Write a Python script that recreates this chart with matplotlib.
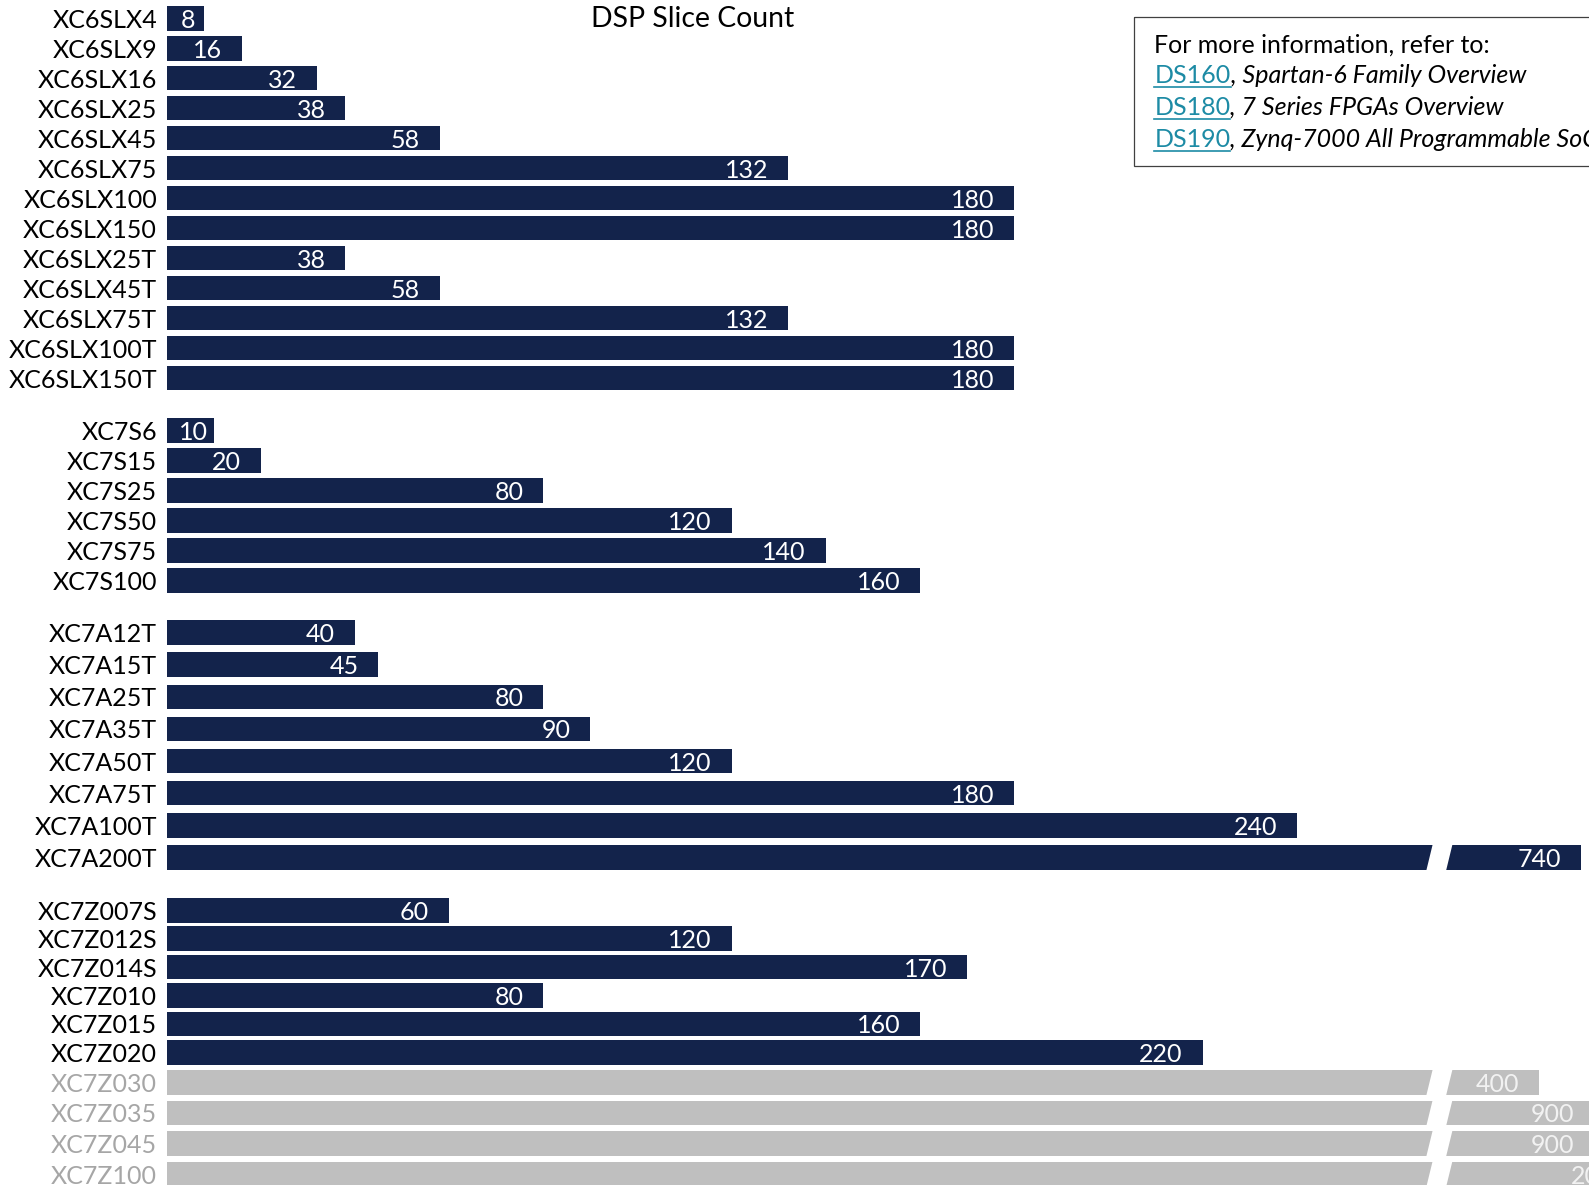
import numpy as np
import matplotlib
matplotlib.use("Agg")
import matplotlib.pyplot as plt
from matplotlib.patches import Polygon, Rectangle
from matplotlib.lines import Line2D

plt.rcParams['font.family'] = ['Lato', 'DejaVu Sans']

# Data
spartan6 = ["XC6SLX4", "XC6SLX9", "XC6SLX16", "XC6SLX25", "XC6SLX45", "XC6SLX75",
            "XC6SLX100", "XC6SLX150", "XC6SLX25T", "XC6SLX45T", "XC6SLX75T",
            "XC6SLX100T", "XC6SLX150T"]
spartan6_dsp = [8, 16, 32, 38, 58, 132, 180, 180, 38, 58, 132, 180, 180]

spartan7 = ["XC7S6", "XC7S15", "XC7S25", "XC7S50", "XC7S75", "XC7S100"]
spartan7_dsp = [10, 20, 80, 120, 140, 160]

artix7 = ["XC7A12T", "XC7A15T", "XC7A25T", "XC7A35T", "XC7A50T", "XC7A75T",
          "XC7A100T", "XC7A200T"]
artix7_dsp = [40, 45, 80, 90, 120, 180, 240, 740]

zynq7 = ["XC7Z007S", "XC7Z012S", "XC7Z014S", "XC7Z010", "XC7Z015", "XC7Z020"]
zynq7_dsp = [60, 120, 170, 80, 160, 220]

zynq7_large = ["XC7Z030", "XC7Z035", "XC7Z045", "XC7Z100"]
zynq7_large_dsp = [400, 900, 900, 2020]

ref_codes = ["DS160", "DS180", "DS190"]
ref_titles = [", Spartan-6 Family Overview", ", 7 Series FPGAs Overview",
              ", Zynq-7000 All Programmable SoC Overview"]

# Colours
navy = '#13234B'
grey_bar = '#BFBFBF'
grey_text = '#A6A6A6'
link = '#1D8BA5'

W, H = 1589, 1185
x0_px = 166.5          # where bars start
px_per_unit = 4.71

# broken axis: linear up to BRK, then compressed log part after a jump
BRK, JUMP, K = 268.0, 17.6, 14.47


def forward(v):
    v = np.asarray(v, dtype=float)
    vv = np.maximum(v, BRK)
    return np.where(v <= BRK, v, BRK + JUMP + K * np.log(vv / BRK))


def inverse(t):
    t = np.asarray(t, dtype=float)
    tt = np.maximum(t, BRK + JUMP)
    return np.where(t <= BRK, t,
                    np.where(t < BRK + JUMP, BRK, BRK * np.exp((tt - BRK - JUMP) / K)))


fig = plt.figure(figsize=(W / 100, H / 100), dpi=100)

# background axes in pixel coordinates for title and info box
ax_bg = fig.add_axes([0, 0, 1, 1])
ax_bg.set_xlim(0, W)
ax_bg.set_ylim(H, 0)
ax_bg.axis('off')

ax_bg.text(692.5, 26.7, "DSP Slice Count", ha='center', va='baseline', fontsize=20.4)

# info box
ax_bg.add_patch(Rectangle((1134.3, 17.3), 600, 148.4, fill=False,
                          edgecolor='#404040', linewidth=0.9))
ax_bg.text(1154.3, 52.3, "For more information, refer to:", fontsize=18,
           va='baseline', ha='left')
link_texts = []
for code, title, base in zip(ref_codes, ref_titles, [83.3, 115.0, 146.7]):
    t1 = ax_bg.text(1154.3, base, code, color=link, fontsize=18, va='baseline', ha='left')
    ax_bg.annotate(title, xy=(1, 0), xycoords=t1, va='bottom', ha='left',
                   fontsize=18, style='italic', annotation_clip=False)
    link_texts.append((t1, base))

# group layout: (names, values, bar colour, label colour, value colour, first row px, last row px)
groups = [
    (spartan6, spartan6_dsp, navy, 'black', 'white', 18.3, 378.0),
    (spartan7, spartan7_dsp, navy, 'black', 'white', 430.5, 580.5),
    (artix7, artix7_dsp, navy, 'black', 'white', 632.5, 857.5),
    (zynq7, zynq7_dsp, navy, 'black', 'white', 910.3, 1052.3),
    (zynq7_large, zynq7_large_dsp, grey_bar, grey_text, '#F2F2F2', 1082.5, 1174.0),
]

t_max = (W - x0_px) / px_per_unit

for names, vals, bcol, lcol, vcol, first, last in groups:
    n = len(names)
    step = (last - first) / (n - 1)
    top = first - step / 2
    bottom = last + step / 2
    ax = fig.add_axes([x0_px / W, 1 - bottom / H, (W - x0_px) / W, (bottom - top) / H])
    ax.set_facecolor('none')
    ax.set_xscale('function', functions=(forward, inverse))
    ax.set_xlim(0, float(inverse(t_max)))
    ax.set_ylim(n - 0.5, -0.5)
    h = 24.5 / step
    y = np.arange(n)
    ax.barh(y, vals, height=h, color=bcol, zorder=2)
    ax.set_yticks(y)
    ax.set_yticklabels(names, fontsize=18, color=lcol)
    ax.tick_params(axis='y', length=0, pad=6.8)
    ax.set_xticks([])
    for s in ax.spines.values():
        s.set_visible(False)

    gap_tr = ax.transLimits + ax.transAxes
    hh = h / 2 + 0.04
    for i, v in enumerate(vals):
        if v > BRK:
            ax.add_patch(Polygon([(268.85, i - hh), (273.05, i - hh),
                                  (271.65, i + hh), (267.45, i + hh)],
                                 closed=True, facecolor='white', edgecolor='none',
                                 transform=gap_tr, zorder=3, clip_on=False))
        if v <= 10:
            ax.annotate(str(v), xy=(v / 2, i), xytext=(3, 0), textcoords='offset pixels',
                        ha='center', va='center_baseline', color=vcol, fontsize=18,
                        zorder=4, annotation_clip=False)
        else:
            ax.annotate(str(v), xy=(v, i), xytext=(-20, 0), textcoords='offset pixels',
                        ha='right', va='center_baseline', color=vcol, fontsize=18,
                        zorder=4, annotation_clip=False)

# underline the document links
fig.canvas.draw()
inv = ax_bg.transData.inverted()
for t1, base in link_texts:
    bb = t1.get_window_extent()
    xa = inv.transform((bb.x0, 0))[0]
    xb = inv.transform((bb.x1, 0))[0]
    ax_bg.add_line(Line2D([xa, xb], [base + 4, base + 4], color=link, linewidth=1.2))

fig.savefig("out.png", dpi=100)
